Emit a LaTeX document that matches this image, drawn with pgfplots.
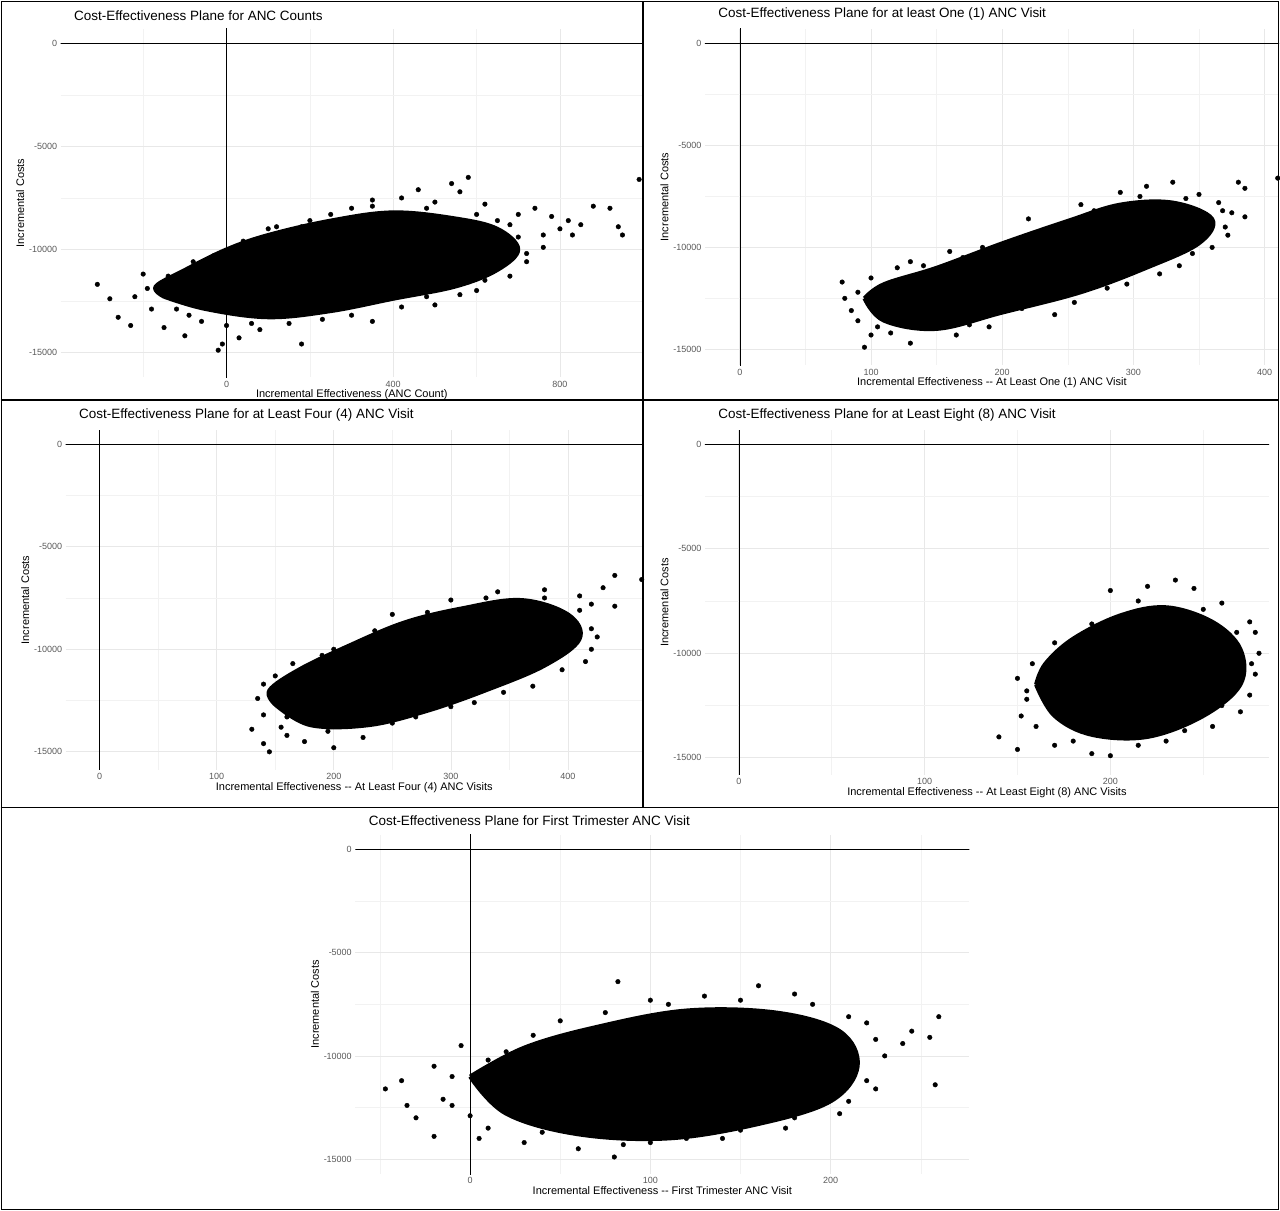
\documentclass[border=0pt]{standalone}
\usepackage{pgfplots}
\pgfplotsset{compat=1.18}
\usepackage{fontspec}
\setmainfont{Liberation Sans}
\pgfplotsset{cep/.style={scale only axis, anchor=south west,
  axis line style={draw=none}, tick style={draw=none},
  scaled y ticks=false, scaled x ticks=false,
  grid=both, major grid style={gray!18, line width=0.7pt}, minor grid style={gray!10, line width=0.5pt},
  tick label style={font=\fontsize{9}{10}\selectfont, text=black!65},
  /pgf/number format/assume math mode=true, /pgf/number format/1000 sep={},
  label style={font=\fontsize{11}{12}\selectfont},
  xlabel style={yshift=4pt}, ylabel style={yshift=-2pt},
  ylabel={Incremental Costs},
  ytick={-15000,-10000,-5000,0}, minor ytick={-12500,-7500,-2500},
  title style={font=\fontsize{13.5}{16}\selectfont, at={(0,1)}, anchor=south west, xshift=10pt, yshift=-1pt},
  clip=true},
  pts/.style={only marks, mark=*, mark size=2.3pt, black},
  blob/.style={fill=black, draw=black, line width=4pt, line join=round, smooth, tension=0.6}}
\begin{document}
\begin{tikzpicture}
\draw[white] (0,0) rectangle (1280pt,1211pt);
% Panel 1
\begin{axis}[cep, at={(60pt,834pt)}, width=583pt, height=349pt,
  xmin=-398, xmax=999, ymin=-16214, ymax=728,
  xtick={0,400,800}, minor xtick={-200,200,600},
  xlabel={Incremental Effectiveness (ANC Count)},
  title={Cost-Effectiveness Plane for ANC Counts}]
\addplot[black] coordinates {(-400,0)(1000,0)};
\addplot[black] coordinates {(0,-17000)(0,1000)};
\addplot[blob] coordinates {(-150,-12300)(-50,-12900)(100,-13300)(250,-13000)(400,-12400)(550,-11800)(650,-11000)(700,-10000)(650,-9000)(550,-8500)(400,-8200)(250,-8600)(100,-9300)(0,-10000)(-100,-11000)(-170,-11800)(-150,-12300)};
\addplot[pts] coordinates {(-310,-11700)(-280,-12400)(-260,-13300)(-230,-13700)(-200,-11200)(-180,-12900)(-150,-13800)(-100,-14200)(-20,-14900)(-10,-14600)(30,-14300)(80,-13900)(180,-14600)(150,-9800)(100,-9000)(200,-8600)(300,-8000)(420,-7500)(500,-7700)(560,-7200)(620,-7800)(700,-8300)(740,-8000)(780,-8400)(800,-9000)(820,-8600)(830,-9300)(850,-8800)(880,-7900)(920,-8000)(940,-8900)(950,-9300)(990,-6600)(760,-9900)(720,-10600)(600,-12000)(500,-12700)(350,-13500)(460,-7100)(540,-6800)(580,-6500)(-60,-13500)(-120,-12900)(40,-9600)(120,-8900)
(-220,-12300)(-190,-11900)(-90,-13200)(0,-13700)(60,-13600)(150,-13600)(230,-13400)(300,-13200)(420,-12800)(480,-12300)(560,-12200)(620,-11500)(680,-11300)(720,-10200)(700,-9400)(680,-8800)(600,-8300)(480,-8000)(350,-7900)(250,-8300)(180,-8900)(60,-9700)(-30,-10300)(-80,-10600)(-140,-11300)(350,-7600)(650,-8600)(760,-9300)};
\end{axis}
% Panel 2
\begin{axis}[cep, at={(705pt,846pt)}, width=575pt, height=337pt,
  xmin=-26.7, xmax=411, ymin=-15784, ymax=735,
  xtick={0,100,200,300,400}, minor xtick={50,150,250,350},
  xlabel={Incremental Effectiveness -{}- At Least One (1) ANC Visit},
  title={Cost-Effectiveness Plane for at least One (1) ANC Visit}]
\addplot[black] coordinates {(-30,0)(420,0)};
\addplot[black] coordinates {(0,-17000)(0,1500)};
\addplot[blob] coordinates {(95,-12500)(110,-13600)(150,-14000)(200,-13200)(260,-12200)(310,-11000)(350,-9800)(360,-8600)(330,-7800)(290,-7900)(250,-8700)(200,-9800)(150,-11000)(110,-11800)(95,-12500)};
\addplot[pts] coordinates {(78,-11700)(80,-12500)(85,-13100)(90,-13600)(95,-14900)(100,-14300)(130,-14700)(165,-14300)(190,-13900)(240,-13300)(120,-11000)(130,-10700)(160,-10200)(220,-8600)(260,-7900)(290,-7300)(310,-7000)(330,-6800)(350,-7400)(365,-7800)(375,-8300)(385,-8500)(380,-6800)(385,-7100)(410,-6600)(370,-9000)(345,-10300)(320,-11300)(280,-12000)(105,-13900)(140,-10900)
(90,-12200)(100,-11500)(115,-14200)(175,-13800)(215,-13000)(255,-12700)(295,-11800)(335,-10900)(360,-10000)(372,-9400)(368,-8200)(340,-7600)(305,-7500)(270,-8200)(235,-9100)(185,-10000)(170,-10500)(110,-12600)};
\end{axis}
% Panel 3
\begin{axis}[cep, at={(65pt,441pt)}, width=578pt, height=340pt,
  xmin=-29, xmax=464, ymin=-15872, ymax=682,
  xtick={0,100,200,300,400}, minor xtick={50,150,250,350},
  xlabel={Incremental Effectiveness -{}- At Least Four (4) ANC Visits},
  title={Cost-Effectiveness Plane for at Least Four (4) ANC Visit}]
\addplot[black] coordinates {(-30,0)(470,0)};
\addplot[black] coordinates {(0,-17000)(0,1500)};
\addplot[blob] coordinates {(150,-12700)(180,-13700)(230,-13700)(280,-13000)(330,-12000)(380,-10800)(410,-9500)(400,-8300)(360,-7600)(310,-8000)(260,-8700)(210,-9900)(170,-11000)(145,-12000)(150,-12700)};
\addplot[pts] coordinates {(130,-13900)(140,-14600)(145,-15000)(160,-13300)(175,-14500)(200,-14800)(135,-12400)(150,-11300)(190,-10300)(250,-8300)(300,-7600)(340,-7200)(380,-7100)(410,-7400)(420,-7800)(430,-7000)(440,-6400)(440,-7900)(463,-6600)(420,-9000)(420,-10000)(370,-11800)(320,-12600)(270,-13300)(160,-14200)(225,-14300)
(140,-13200)(155,-13800)(195,-14000)(250,-13600)(300,-12800)(345,-12100)(395,-11000)(415,-10600)(425,-9400)(410,-8100)(380,-7500)(330,-7500)(280,-8200)(235,-9100)(200,-10000)(165,-10700)(140,-11700)};
\end{axis}
% Panel 4
\begin{axis}[cep, at={(705pt,436pt)}, width=565pt, height=345pt,
  xmin=-18.3, xmax=285.4, ymin=-15807, ymax=669,
  xtick={0,100,200}, minor xtick={50,150,250},
  xlabel={Incremental Effectiveness -{}- At Least Eight (8) ANC Visits},
  title={Cost-Effectiveness Plane for at Least Eight (8) ANC Visit}]
\addplot[black] coordinates {(-20,0)(290,0)};
\addplot[black] coordinates {(0,-17000)(0,1500)};
\addplot[blob] coordinates {(160,-11500)(170,-13000)(190,-13900)(220,-14000)(250,-13000)(270,-11500)(270,-9800)(255,-8500)(230,-7800)(205,-8200)(180,-9300)(165,-10500)(160,-11500)};
\addplot[pts] coordinates {(140,-14000)(150,-14600)(155,-12200)(170,-14400)(190,-14800)(200,-14900)(215,-14400)(240,-13700)(260,-12500)(275,-12000)(280,-10000)(200,-7000)(220,-6800)(235,-6500)(245,-6900)(260,-7600)(275,-8500)(150,-11200)(158,-10500)(170,-9500)(152,-13000)(278,-9000)
(160,-13500)(180,-14200)(230,-14200)(255,-13500)(270,-12800)(278,-11000)(276,-10500)(268,-9000)(250,-7900)(215,-7500)(190,-8600)(175,-9900)(155,-11800)};
\end{axis}
% Panel 5
\begin{axis}[cep, at={(355pt,36pt)}, width=615pt, height=340pt,
  xmin=-63.7, xmax=277, ymin=-15731, ymax=726,
  xtick={0,100,200}, minor xtick={-50,50,150,250},
  xlabel={Incremental Effectiveness -{}- First Trimester ANC Visit},
  title={Cost-Effectiveness Plane for First Trimester ANC Visit}]
\addplot[black] coordinates {(-70,0)(280,0)};
\addplot[black] coordinates {(0,-17000)(0,1500)};
\addplot[blob] coordinates {(0,-11000)(20,-12800)(60,-13800)(110,-14000)(160,-13300)(200,-12200)(215,-10500)(205,-8800)(170,-7900)(120,-7800)(70,-8600)(30,-9600)(0,-11000)};
\addplot[pts] coordinates {(-47,-11600)(-38,-11200)(-35,-12400)(-30,-13000)(-20,-13900)(-10,-11000)(-5,-9500)(-15,-12100)(5,-14000)(10,-13500)(30,-14200)(60,-14500)(80,-14900)(100,-14200)(120,-14000)(150,-13600)(180,-13000)(210,-12200)(225,-11600)(230,-10000)(240,-9400)(255,-9100)(260,-8100)(258,-11400)(245,-8800)(220,-8400)(190,-7500)(180,-7000)(160,-6600)(82,-6400)(100,-7300)(130,-7100)(50,-8300)(20,-9800)
(-10,-12400)(0,-12900)(40,-13700)(85,-14300)(140,-14000)(175,-13500)(205,-12800)(220,-11200)(225,-9200)(210,-8100)(150,-7300)(110,-7500)(75,-7900)(35,-9000)(10,-10200)(-20,-10500)};
\end{axis}
% frames
\draw[line width=1.5pt] (0.75pt,0.75pt) rectangle (1279.25pt,1210.25pt);
\draw[line width=1.5pt] (0,811pt) -- (1280pt,811pt);
\draw[line width=1.5pt] (0,403pt) -- (1280pt,403pt);
\draw[line width=1.5pt] (643pt,403pt) -- (643pt,1211pt);
\end{tikzpicture}
\end{document}
